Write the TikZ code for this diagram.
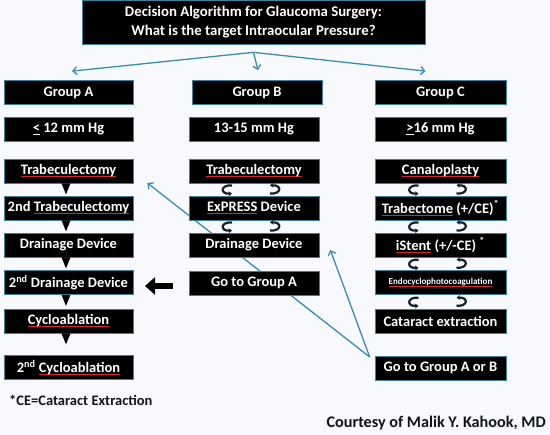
\documentclass[tikz,border=0pt]{standalone}
\usepackage{fontspec}
\setmainfont{Carlito}
\usepackage{xcolor}
\usetikzlibrary{arrows.meta,calc,backgrounds}
\definecolor{paper}{HTML}{F7F9FC}
\definecolor{link}{HTML}{3A8DB0}
\definecolor{edge}{HTML}{3E7F9C}
\definecolor{spellred}{HTML}{D42A2A}
\definecolor{ink}{HTML}{111418}
\definecolor{curlink}{HTML}{15212D}
\newcommand\squig[1]{\setbox0\hbox{#1}\rlap{\color{spellred}\rule[-2.4pt]{\wd0}{0.8pt}}\box0\relax}

\begin{document}
\begin{tikzpicture}[
  x=1pt,y=-1pt,
  box/.style={rectangle,fill=black,draw=edge,line width=0.7pt,text=white,
    font=\bfseries\fontsize{14.5}{16}\selectfont,minimum width=130pt,minimum height=24pt,inner sep=0pt},
  colA/.style={box,minimum width=129pt},
  colC/.style={box,minimum width=131pt},
  flow/.style={link,line width=1.3pt,-{Straight Barb[length=4pt,width=8pt]}},
  curl/.style={curlink,line width=2.2pt,-{Stealth[length=3.5pt,width=5pt]}},
  txt/.style={text=ink,font=\bfseries\fontsize{14.5}{16}\selectfont,inner sep=0pt}]
  \useasboundingbox (0,0) rectangle (550,435);
  % title
  \node[box,minimum width=343pt,minimum height=44pt,align=center,
    font=\bfseries\fontsize{14.8}{19}\selectfont] (title) at (253.5,22)
    {Decision Algorithm for Glaucoma Surgery:\\What is the target Intraocular Pressure?};
  % group A
  \node[colA] (ga) at (68.5,92.5) {Group A};
  \node[colA] (aiop) at (68.5,129) {\underline{<} 12 mm Hg};
  \node[colA] (atrab) at (68.5,171) {\squig{Trabeculectomy}};
  \node[colA] (a2trab) at (68.5,208) {2nd \squig{Trabeculectomy}};
  \node[colA] (add) at (68.5,245) {Drainage Device};
  \node[colA] (a2dd) at (68.5,282.5) {2\textsuperscript{nd} Drainage Device};
  \node[colA] (acyc) at (68.5,321) {\squig{Cycloablation}};
  \node[colA] (a2cyc) at (68.5,367.5) {2\textsuperscript{nd} \squig{Cycloablation}};
  % group B
  \node[box] (gb) at (257,92.5) {Group B};
  \node[box] (biop) at (254,129) {13-15 mm Hg};
  \node[box] (btrab) at (254,171) {\squig{Trabeculectomy}};
  \node[box] (bexp) at (254,208) {\squig{ExPRESS} Device};
  \node[box] (bdd) at (254,245) {Drainage Device};
  \node[box] (bgo) at (254,283) {Go to Group A};
  % group C
  \node[colC] (gc) at (440.5,92.5) {Group C};
  \node[colC] (ciop) at (440.5,129) {\underline{>}16 mm Hg};
  \node[colC] (ccan) at (440.5,171) {\squig{Canaloplasty}};
  \node[colC] (ctrab) at (440.5,208) {\squig{Trabectome} (+/CE)\textsuperscript{*}};
  \node[colC] (cist) at (440.5,245) {\squig{iStent} (+/-CE) \textsuperscript{*}};
  \node[colC,font=\bfseries\fontsize{9}{10}\selectfont] (cendo) at (440.5,282.5) {\squig{Endocyclophotocoagulation}};
  \node[colC] (ccat) at (440.5,321) {Cataract extraction};
  \node[colC] (cgo) at (440.5,368) {Go to Group A or B};
  % notes
  \node[txt,anchor=west] (note) at (9,400) {*CE=Cataract Extraction};
  \node[txt,anchor=east,font=\bfseries\fontsize{16.2}{18}\selectfont] (credit) at (546,423) {Courtesy of Malik Y. Kahook, MD};
  % arrows from the title
  \coordinate (split) at ([yshift=-8pt]title.south);
  \draw[flow] (split) -- ([xshift=3.5pt,yshift=9pt]ga.north);
  \draw[flow] (split) -- ([xshift=1pt,yshift=10pt]gb.north);
  \draw[flow] (split) -- ([xshift=-15pt,yshift=9pt]gc.north);
  % steps down in group A
  \foreach \n in {atrab,a2trab,add,a2dd,acyc}
    \fill[black] ([xshift=-2.5pt]\n.south) ++(-4.5,0) -- ++(9,0) -- ++(-4.5,11) -- cycle;
  % back and forth in groups B and C
  \foreach \u/\l in {btrab/bexp,bexp/bdd,ccan/ctrab,ctrab/cist,cist/cendo,cendo/ccat}{
    \coordinate (gap) at ($(\u.south)!0.5!(\l.north)$);
    \draw[curl] ([xshift=-22pt,yshift=4pt]gap) .. controls ([xshift=-34pt,yshift=5pt]gap)
      and ([xshift=-34pt,yshift=-5pt]gap) .. ([xshift=-22pt,yshift=-4pt]gap);
    \draw[curl] ([xshift=16pt,yshift=-4pt]gap) .. controls ([xshift=28pt,yshift=-5pt]gap)
      and ([xshift=28pt,yshift=5pt]gap) .. ([xshift=16pt,yshift=4pt]gap);
  }
  % big arrow into group A
  \coordinate (bigtail) at (173,286);
  \coordinate (bighead) at (145,286);
  \draw[black,line width=6.5pt,-{Triangle[length=10pt,width=17pt]}] (bigtail) -- (bighead);
  % back to A or B
  \coordinate (fork) at ([xshift=-5pt,yshift=11pt]cgo.west);
  \begin{scope}[on background layer]
    \fill[paper] (0,0) rectangle (550,435);
    \draw[flow] (fork) -- ([xshift=11pt,yshift=-5pt]bdd.east);
    \draw[flow] (fork) -- ([xshift=14pt,yshift=-12pt]atrab.east);
  \end{scope}
\end{tikzpicture}
\end{document}
